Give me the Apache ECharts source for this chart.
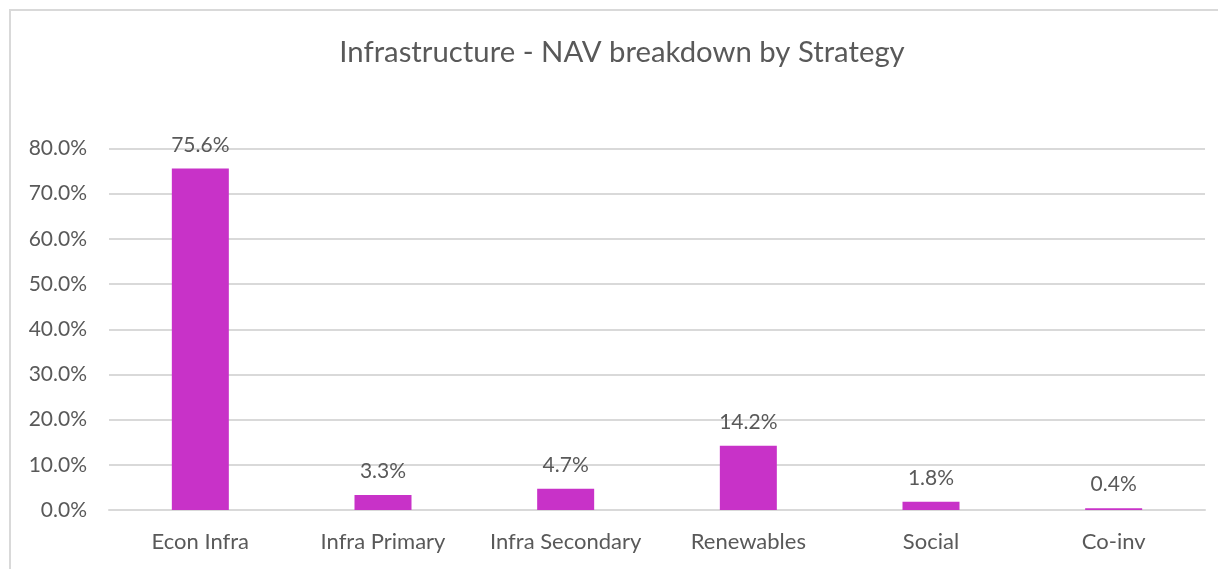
<!DOCTYPE html>
<html>
<head>
<meta charset="utf-8">
<script src="https://cdn.jsdelivr.net/npm/echarts@6/dist/echarts.min.js"></script>
<style>
  html, body { margin: 0; padding: 0; background: #ffffff; }
  #chart { width: 1218px; height: 569px; }
</style>
</head>
<body>
<div id="chart"></div>
<script>
// NAV share by strategy, in percent
const categories = ['Econ Infra', 'Infra Primary', 'Infra Secondary', 'Renewables', 'Social', 'Co-inv'];
const navShare = [75.6, 3.3, 4.7, 14.2, 1.8, 0.4];
const yTicks = { min: 0, max: 80, step: 10 };
const titleText = 'Infrastructure - NAV breakdown by Strategy';

const FONT = 'Lato';
const TEXT = '#595959';
const BAR = '#C832C8';

const chart = echarts.init(document.getElementById('chart'), null, { renderer: 'canvas' });

chart.setOption({
  backgroundColor: '#ffffff',
  animation: false,
  graphic: [{
    type: 'rect',
    shape: { x: 10, y: 10, width: 1230, height: 590 },
    style: { fill: 'none', stroke: '#D9D9D9', lineWidth: 2 },
    silent: true
  }],
  title: {
    text: titleText,
    left: 617,
    top: 33,
    textAlign: 'center',
    textStyle: { fontFamily: FONT, fontSize: 29.3, fontWeight: 'normal', color: TEXT }
  },
  grid: { left: 109, right: 13, top: 148.5, bottom: 59, containLabel: false },
  xAxis: {
    type: 'category',
    data: categories,
    axisLine: { lineStyle: { color: '#D9D9D9', width: 2 } },
    axisTick: { show: false },
    axisLabel: { interval: 0, fontFamily: FONT, fontSize: 22, color: TEXT, margin: 21 }
  },
  yAxis: {
    type: 'value',
    min: yTicks.min,
    max: yTicks.max,
    interval: yTicks.step,
    axisLine: { show: false },
    axisTick: { show: false },
    splitLine: { lineStyle: { color: '#D9D9D9', width: 2 } },
    axisLabel: {
      fontFamily: FONT, fontSize: 21, color: TEXT, margin: 22,
      formatter: v => v.toFixed(1) + '%'
    }
  },
  series: [{
    type: 'bar',
    data: navShare,
    barWidth: 57,
    itemStyle: { color: BAR },
    label: {
      show: true,
      position: 'top',
      distance: 13,
      fontFamily: FONT, fontSize: 21, color: TEXT,
      formatter: p => p.value.toFixed(1) + '%'
    }
  }]
});
</script>
</body>
</html>
